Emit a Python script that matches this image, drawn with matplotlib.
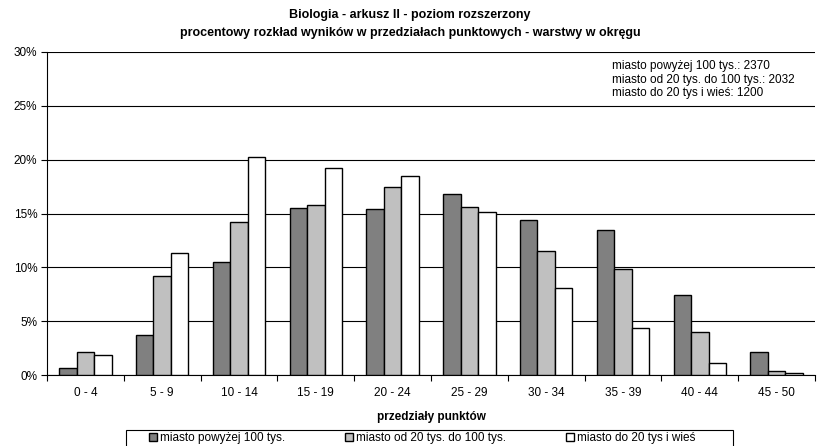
import numpy as np
import matplotlib.pyplot as plt
from matplotlib.ticker import FuncFormatter
from matplotlib.patches import Rectangle

plt.rcParams['font.family'] = ['Liberation Sans', 'DejaVu Sans']

categories = ["0 - 4", "5 - 9", "10 - 14", "15 - 19", "20 - 24",
              "25 - 29", "30 - 34", "35 - 39", "40 - 44", "45 - 50"]
big_city = [0.65, 3.7, 10.45, 15.5, 15.45, 16.8, 14.4, 13.5, 7.4, 2.1]
mid_city = [2.1, 9.15, 14.2, 15.8, 17.5, 15.6, 11.55, 9.85, 4.0, 0.35]
small_town = [1.85, 11.3, 20.25, 19.25, 18.5, 15.1, 8.1, 4.4, 1.1, 0.15]
series_names = ["miasto powyżej 100 tys.", "miasto od 20 tys. do 100 tys.",
                "miasto do 20 tys i wieś"]
counts_text = ["miasto powyżej 100 tys.: 2370",
               "miasto od 20 tys. do 100 tys.: 2032",
               "miasto do 20 tys i wieś: 1200"]

W, H = 817, 446
fig = plt.figure(figsize=(W / 100, H / 100), dpi=100)
ax = fig.add_axes([47 / W, 71 / H, 768 / W, 323 / H])

x = np.arange(len(categories))
w = 0.228
colors = ["#808080", "#c0c0c0", "#ffffff"]
bars = []
for i, (vals, c, name) in enumerate(zip([big_city, mid_city, small_town], colors, series_names)):
    b = ax.bar(x + (i - 1) * w, vals, w, color=c, edgecolor="black", linewidth=1.0,
               label=name, zorder=3)
    bars.append(b)

ax.set_xlim(-0.5, len(categories) - 0.5)
ax.set_ylim(0, 30)
ax.set_yticks(np.arange(0, 31, 5))
ax.yaxis.set_major_formatter(FuncFormatter(lambda v, p: f"{int(v)}%"))
ax.yaxis.grid(True, color="black", linewidth=0.8, zorder=0)
ax.set_axisbelow(True)

ax.set_xticks(x)
ax.set_xticklabels(categories)
ax.set_xticks(np.arange(-0.5, len(categories)), minor=True)
ax.tick_params(axis="x", which="major", length=0, pad=9, labelsize=8.5)
ax.tick_params(axis="x", which="minor", length=4, direction="out", width=0.8)
ax.tick_params(axis="y", length=4, direction="out", width=0.8, labelsize=8.5, pad=3)

for s in ["top", "right"]:
    ax.spines[s].set_visible(False)
ax.spines["left"].set_linewidth(0.8)
ax.spines["bottom"].set_linewidth(0.8)

ax.set_xlabel("przedziały punktów", fontsize=8.5, fontweight="bold", labelpad=8)

fig.text(0.502, 1 - 15 / H, "Biologia - arkusz II - poziom rozszerzony",
         ha="center", va="center", fontsize=9, fontweight="bold")
fig.text(0.502, 1 - 33 / H, "procentowy rozkład wyników w przedziałach punktowych - warstwy w okręgu",
         ha="center", va="center", fontsize=9, fontweight="bold")

ax.text((612 - 47) / 768, 0.974, "\n".join(counts_text), transform=ax.transAxes,
        ha="left", va="top", fontsize=8.5, linespacing=1.15,
        bbox=dict(facecolor="white", edgecolor="none", pad=2), zorder=5)

# legend: one frame, three entries at fixed positions
fig.patches.append(Rectangle((126 / W, -10 / H), 607 / W, 26 / H, transform=fig.transFigure,
                             facecolor="white", edgecolor="black", linewidth=0.8))
for b, name, px in zip(bars, series_names, [149, 345, 566]):
    fig.legend([b], [name], loc="center left", bbox_to_anchor=(px / W, 8 / H),
               fontsize=8.5, frameon=False, handlelength=0.7, handleheight=0.7,
               handletextpad=0.25, borderpad=0, borderaxespad=0)

fig.savefig("out.png", dpi=100)
